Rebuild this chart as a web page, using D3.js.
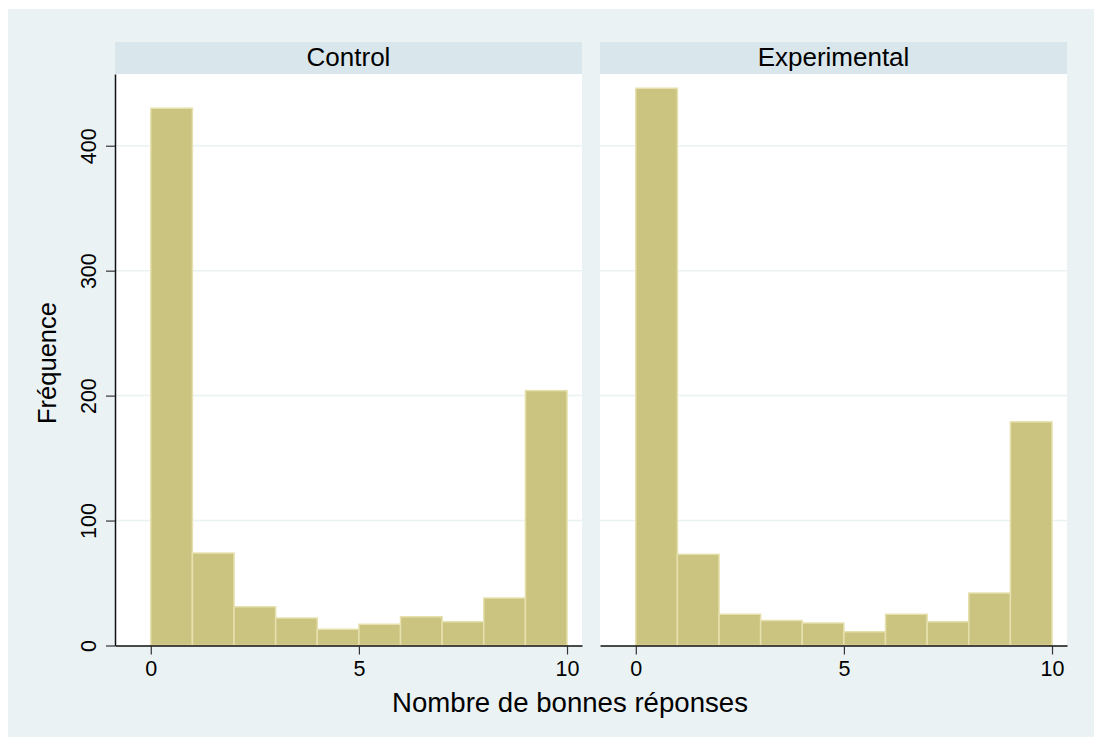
<!DOCTYPE html>
<html>
<head>
<meta charset="utf-8">
<script src="https://cdn.jsdelivr.net/npm/d3@7"></script>
<style>
  body { margin: 0; background: #fff; }
  text { font-family: "Liberation Sans", Arial, Helvetica, sans-serif; fill: #000; }
</style>
</head>
<body>
<div id="chart"></div>
<script>
// Data
const groups = ["Control", "Experimental"];
const binStarts = [0, 1, 2, 3, 4, 5, 6, 7, 8, 9];
const controlCounts = [430, 74, 31, 22, 13, 17, 23, 19, 38, 204];
const experimentalCounts = [446, 73, 25, 20, 18, 11, 25, 19, 42, 179];
const yTicks = [0, 100, 200, 300, 400];
const xTicks = [0, 5, 10];

const counts = [controlCounts, experimentalCounts];

const width = 1094;
const height = 737;
const panelLeft = [115, 600];
const panelWidth = 467;
const plotTop = 74;
const plotBottom = 645.5;
const stripTop = 42;

const svg = d3.select("#chart")
    .append("svg")
    .attr("width", width)
    .attr("height", height);

// Outer background
svg.append("rect")
    .attr("x", 8)
    .attr("y", 9)
    .attr("width", width - 8)
    .attr("height", height - 9)
    .attr("fill", "#eaf2f3");

const y = d3.scaleLinear()
    .domain([0, 457.4])
    .range([plotBottom, plotTop]);

groups.forEach((name, i) => {
    const left = panelLeft[i];
    const x = d3.scaleLinear()
        .domain([-0.86, 10.36])
        .range([left, left + panelWidth]);

    const panel = svg.append("g").attr("class", "panel");

    // Plot area
    panel.append("rect")
        .attr("x", left)
        .attr("y", plotTop)
        .attr("width", panelWidth)
        .attr("height", plotBottom - plotTop)
        .attr("fill", "#fff");

    // Title strip
    panel.append("rect")
        .attr("x", left)
        .attr("y", stripTop)
        .attr("width", panelWidth)
        .attr("height", plotTop - stripTop)
        .attr("fill", "#d9e6eb");

    panel.append("text")
        .attr("x", left + panelWidth / 2)
        .attr("y", 65.5)
        .attr("text-anchor", "middle")
        .style("font-size", "26px")
        .text(name);

    // Gridlines
    panel.selectAll(".grid")
        .data(yTicks.filter(d => d > 0))
        .enter()
        .append("line")
        .attr("x1", left)
        .attr("x2", left + panelWidth)
        .attr("y1", d => y(d))
        .attr("y2", d => y(d))
        .attr("stroke", "#eaf2f3")
        .attr("stroke-width", 1.5);

    // Bars
    panel.selectAll(".bar")
        .data(binStarts.map((b, j) => ({ start: b, value: counts[i][j] })))
        .enter()
        .append("rect")
        .attr("class", "bar")
        .attr("x", d => x(d.start))
        .attr("y", d => y(d.value))
        .attr("width", d => x(d.start + 1) - x(d.start))
        .attr("height", d => y(0) - y(d.value))
        .attr("fill", "#cbc480")
        .attr("stroke", "#e6e0ae")
        .attr("stroke-width", 1.5);

    // X axis
    const xAxis = panel.append("g")
        .attr("transform", `translate(0,${plotBottom})`)
        .call(d3.axisBottom(x).tickValues(xTicks).tickSize(9).tickPadding(6).tickSizeOuter(0));
    xAxis.select(".domain").attr("stroke", "#111").attr("stroke-width", 1.5);
    xAxis.selectAll(".tick line").attr("stroke", "#333").attr("stroke-width", 1.2);
    xAxis.selectAll("text")
        .style("font-size", "21.5px")
        .style("font-family", "'Liberation Sans', Arial, sans-serif")
        .attr("fill", "#000");

    // Y axis only on the first panel
    if (i === 0) {
        const yAxis = panel.append("g")
            .attr("transform", `translate(${left},0)`)
            .call(d3.axisLeft(y).tickValues(yTicks).tickSize(9).tickSizeOuter(0));
        yAxis.select(".domain").attr("stroke", "#111").attr("stroke-width", 1.5);
        yAxis.selectAll(".tick line").attr("stroke", "#333").attr("stroke-width", 1.2);
        yAxis.selectAll("text")
            .attr("x", null)
            .attr("dy", null)
            .attr("transform", "translate(-19,0) rotate(-90)")
            .attr("text-anchor", "middle")
            .attr("y", 0)
            .style("font-size", "21.5px")
            .style("font-family", "'Liberation Sans', Arial, sans-serif")
            .attr("fill", "#000");
    }
});

// Axis titles
svg.append("text")
    .attr("x", 570)
    .attr("y", 712)
    .attr("text-anchor", "middle")
    .style("font-size", "27.6px")
    .text("Nombre de bonnes réponses");

svg.append("text")
    .attr("transform", "translate(56,363) rotate(-90)")
    .attr("text-anchor", "middle")
    .style("font-size", "25.5px")
    .text("Fréquence");
</script>
</body>
</html>
